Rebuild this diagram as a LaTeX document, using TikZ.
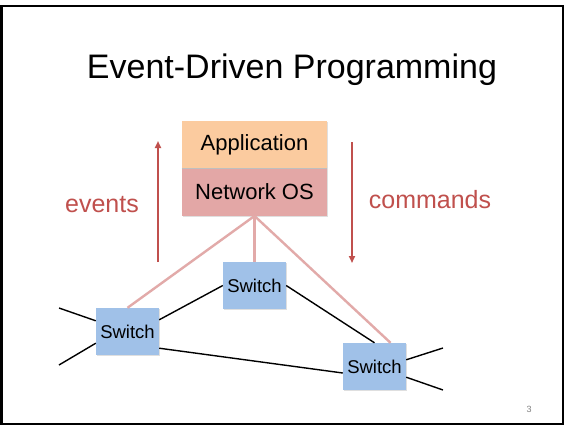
\documentclass[tikz,border=0pt]{standalone}
\usepackage{fontspec}
\setmainfont{Liberation Sans}
\usetikzlibrary{arrows.meta,shadows}
\definecolor{appfill}{HTML}{FBCB9F}
\definecolor{osfill}{HTML}{E3A7A6}
\definecolor{swfill}{HTML}{A0C1E8}
\definecolor{accent}{HTML}{C0504D}
\definecolor{pinkline}{HTML}{E2AAA9}
\tikzset{
  layerbox/.style={minimum width=145pt, minimum height=47.5pt, inner sep=0pt, font=\fontsize{22}{26}\selectfont,
    drop shadow={shadow xshift=1pt, shadow yshift=-1pt, opacity=0.25}},
  switchbox/.style={fill=swfill, minimum width=63pt, minimum height=47pt, inner sep=0pt,
    font=\fontsize{18.5}{22}\selectfont,
    drop shadow={shadow xshift=1pt, shadow yshift=-1pt, opacity=0.25}},
  ctrl/.style={pinkline, line width=2.4pt},
  link/.style={black, line width=1.4pt},
  flow/.style={accent, line width=2pt, -{Triangle[length=7pt,width=6pt]}},
  flowlabel/.style={accent, font=\fontsize{25}{30}\selectfont, inner sep=0pt},
}
\begin{document}
\begin{tikzpicture}[x=1pt,y=-1pt]
\useasboundingbox (0,0) rectangle (565,429);
\fill[white] (0,0) rectangle (565,429);
\draw[line width=2.6pt] (1.5,6) rectangle (563,424);

\node[inner sep=0pt, font=\fontsize{34}{40}\selectfont] (title) at (292,70) {Event-Driven Programming};

\node[layerbox, fill=appfill] (app) at (254.5,144.5) {Application};
\node[layerbox, fill=osfill] (nos) at (254.5,192) {Network OS};
\draw[black!25, line width=0.6pt] (app.south west) -- (app.south east);

\node[switchbox] (l) at (127.5,331.5) {Switch};
\node[switchbox] (m) at (254.5,285.5) {Switch};
\node[switchbox] (r) at (374.5,366.5) {Switch};

% control channels
\draw[ctrl] (nos.south) -- (l.north);
\draw[ctrl] (nos.south) -- (m.north);
\draw[ctrl] (nos.south) -- ([xshift=16pt]r.north);

% data links
\coordinate (la) at (59,308);
\coordinate (lb) at (59,365);
\coordinate (ra) at (443,348);
\coordinate (rb) at (443,390);
\draw[link] (la) -- ([shift={(0,13)}]l.north west);
\draw[link] (lb) -- ([shift={(0,-12)}]l.south west);
\draw[link] ([shift={(0,12)}]l.north east) -- (m.west);
\draw[link] ([shift={(0,-7)}]l.south east) -- ([shift={(0,6.5)}]r.west);
\draw[link] (m.east) -- (r.north);
\draw[link] ([shift={(0,17)}]r.north east) -- (ra);
\draw[link] ([shift={(0,-13)}]r.south east) -- (rb);

% events / commands
\coordinate (evlow) at (158,262);
\coordinate (evhigh) at (158,141);
\coordinate (cmhigh) at (352,142);
\coordinate (cmlow) at (352,263);
\draw[flow] (evlow) -- (evhigh);
\draw[flow] (cmhigh) -- (cmlow);
\node[flowlabel] (events) at (102,205) {events};
\node[flowlabel] (commands) at (430,200) {commands};

\node[gray, font=\fontsize{9}{11}\selectfont] (pg) at (529,409) {3};
\end{tikzpicture}
\end{document}
